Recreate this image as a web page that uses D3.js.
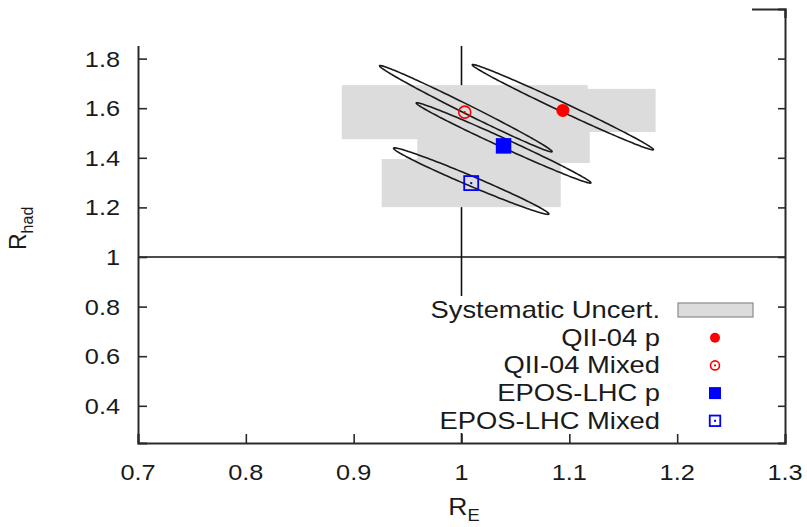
<!DOCTYPE html>
<html>
<head>
<meta charset="utf-8">
<script src="https://cdn.jsdelivr.net/npm/d3@7"></script>
<style>
  body { margin: 0; background: #fff; }
  svg { display: block; }
  text { font-family: "Liberation Sans", Arial, Helvetica, sans-serif; fill: #1a1a1a; }
</style>
</head>
<body>
<div id="chart"></div>
<script>
// series, in legend order
var series = ["QII-04 p", "QII-04 Mixed", "EPOS-LHC p", "EPOS-LHC Mixed"];
var colors = ["#ff0000", "#ff0000", "#0000ff", "#0000ff"];
var markers = ["dot", "ring", "square", "box"];

// best fit points
var rE = [1.094, 1.003, 1.039, 1.009];
var rHad = [1.591, 1.584, 1.448, 1.298];

// statistical contours (centre, half extent, correlation)
var ellE = [1.094, 1.004, 1.039, 1.009];
var ellHad = [1.604, 1.598, 1.460, 1.306];
var sigE = [0.084, 0.080, 0.081, 0.072];
var sigHad = [0.172, 0.174, 0.162, 0.134];
var rho = [-0.9932, -0.9931, -0.9923, -0.9868];

// systematic uncertainty half widths
var sysE = [0.086, 0.114, 0.080, 0.083];
var sysHad = [0.087, 0.109, 0.069, 0.097];

var xTicks = [0.7, 0.8, 0.9, 1, 1.1, 1.2, 1.3];
var yTicks = [0.4, 0.6, 0.8, 1, 1.2, 1.4, 1.6, 1.8];
var sysLabel = "Systematic Uncert.";

var width = 807;
var height = 527;

var svg = d3.select("#chart")
    .append("svg")
    .attr("width", width)
    .attr("height", height)

var x = d3.scaleLinear().domain([0.7, 1.3]).range([138, 785]);
var y = d3.scaleLinear().domain([0.25, 2.0]).range([443, 9]);

var sx = 1.15; // text in the picture is a bit wide

// reference lines R = 1
svg.append("line")
    .attr("x1", x(0.7)).attr("x2", x(1.3))
    .attr("y1", y(1)).attr("y2", y(1))
    .attr("stroke", "#111").attr("stroke-width", 1.6)
svg.append("line")
    .attr("x1", x(1)).attr("x2", x(1))
    .attr("y1", y(0.25)).attr("y2", y(2.0))
    .attr("stroke", "#111").attr("stroke-width", 1.6)

// systematic boxes
svg.append("g").selectAll("rect")
    .data(series)
    .enter().append("rect")
    .attr("x", function (d, i) { return x(rE[i] - sysE[i]) })
    .attr("width", function (d, i) { return x(rE[i] + sysE[i]) - x(rE[i] - sysE[i]) })
    .attr("y", function (d, i) { return y(rHad[i] + sysHad[i]) })
    .attr("height", function (d, i) { return y(rHad[i] - sysHad[i]) - y(rHad[i] + sysHad[i]) })
    .attr("fill", "#dcdcdc")

// contours
var line = d3.line().x(function (p) { return x(p[0]) }).y(function (p) { return y(p[1]) })
svg.append("g").selectAll("path")
    .data(series)
    .enter().append("path")
    .attr("d", function (d, i) {
        var pts = d3.range(0, 361, 2).map(function (a) {
            var t = a * Math.PI / 180;
            return [ellE[i] + sigE[i] * Math.cos(t),
                    ellHad[i] + sigHad[i] * (rho[i] * Math.cos(t) + Math.sqrt(1 - rho[i] * rho[i]) * Math.sin(t))];
        });
        return line(pts) + "Z";
    })
    .attr("fill", "none")
    .attr("stroke", "#1a1a1a")
    .attr("stroke-width", 1.6)

function marker(g, type, color, cx, cy, big) {
    var r = big ? 6.5 : 5;
    var s = big ? 15.5 : 12;
    if (type == "dot") {
        g.append("circle").attr("cx", cx).attr("cy", cy).attr("r", r).attr("fill", color)
    } else if (type == "ring") {
        g.append("circle").attr("cx", cx).attr("cy", cy).attr("r", r - 0.5)
            .attr("fill", "none").attr("stroke", color).attr("stroke-width", 1.6)
        g.append("circle").attr("cx", cx).attr("cy", cy).attr("r", 1.1).attr("fill", color)
    } else if (type == "square") {
        g.append("rect").attr("x", cx - s / 2).attr("y", cy - s / 2)
            .attr("width", s).attr("height", s).attr("fill", color)
    } else {
        var b = s - 1.5;
        g.append("rect").attr("x", cx - b / 2).attr("y", cy - b / 2)
            .attr("width", b).attr("height", b)
            .attr("fill", "none").attr("stroke", color).attr("stroke-width", 1.8)
        g.append("rect").attr("x", cx - 1).attr("y", cy - 1).attr("width", 2).attr("height", 2).attr("fill", color)
    }
}

var pts = svg.append("g")
series.forEach(function (d, i) { marker(pts, markers[i], colors[i], x(rE[i]), y(rHad[i]), true) })

// legend
var key = svg.append("g")
key.append("rect").attr("x", 428).attr("y", 296).attr("width", 332).attr("height", 137).attr("fill", "#fff")
var keyRows = [sysLabel].concat(series);
var rowY = function (i) { return 310 + i * 27.7 };
key.selectAll("text")
    .data(keyRows)
    .enter().append("text")
    .attr("transform", function (d, i) { return "translate(660," + (rowY(i) + 8) + ") scale(1.19,1)" })
    .attr("text-anchor", "end")
    .style("font-size", "23px")
    .text(function (d) { return d })
key.append("rect")
    .attr("x", 678).attr("y", rowY(0) - 7).attr("width", 75).attr("height", 14)
    .attr("fill", "#dcdcdc").attr("stroke", "#8a8a8a").attr("stroke-width", 1.2)
series.forEach(function (d, i) { marker(key, markers[i], colors[i], 715, rowY(i + 1), false) })

// frame and ticks
var axes = svg.append("g")
axes.append("g").attr("transform", "translate(138,0)")
    .call(d3.axisLeft(y).tickValues(yTicks).tickSize(-9).tickFormat(""))
axes.append("g").attr("transform", "translate(785,0)")
    .call(d3.axisRight(y).tickValues(yTicks).tickSize(-7).tickFormat(""))
axes.append("g").attr("transform", "translate(0,443)")
    .call(d3.axisBottom(x).tickValues(xTicks).tickSize(-9).tickFormat(""))
axes.append("g").attr("transform", "translate(0,9)")
    .call(d3.axisTop(x).tickValues(xTicks).tickSize(-9).tickFormat(""))
axes.selectAll(".domain").attr("stroke", "#2a2a2a").attr("stroke-width", 2)
axes.selectAll(".tick line").attr("stroke", "#2a2a2a").attr("stroke-width", 1.6)

// the top strip of the figure is blank except the far right corner
svg.append("rect").attr("x", 0).attr("y", 0).attr("width", 752).attr("height", 46).attr("fill", "#fff")

// tick labels
svg.append("g").selectAll("text")
    .data(yTicks)
    .enter().append("text")
    .attr("transform", function (d) { return "translate(120," + (y(d) + 8) + ") scale(" + sx + ",1)" })
    .attr("text-anchor", "end")
    .style("font-size", "22px")
    .text(function (d) { return d })
svg.append("g").selectAll("text")
    .data(xTicks)
    .enter().append("text")
    .attr("transform", function (d) { return "translate(" + x(d) + ",480) scale(" + sx + ",1)" })
    .attr("text-anchor", "middle")
    .style("font-size", "22px")
    .text(function (d) { return d })

// axis titles
var xt = svg.append("text")
    .attr("transform", "translate(464,515) scale(" + sx + ",1)")
    .attr("text-anchor", "middle")
    .style("font-size", "23px")
xt.append("tspan").text("R")
xt.append("tspan").attr("dy", 6).style("font-size", "16px").text("E")

var yt = svg.append("text")
    .attr("transform", "translate(26,250) rotate(-90)")
    .attr("text-anchor", "start")
    .style("font-size", "23px")
yt.append("tspan").text("R")
yt.append("tspan").attr("dy", 7).style("font-size", "16px").text("had")
</script>
</body>
</html>
